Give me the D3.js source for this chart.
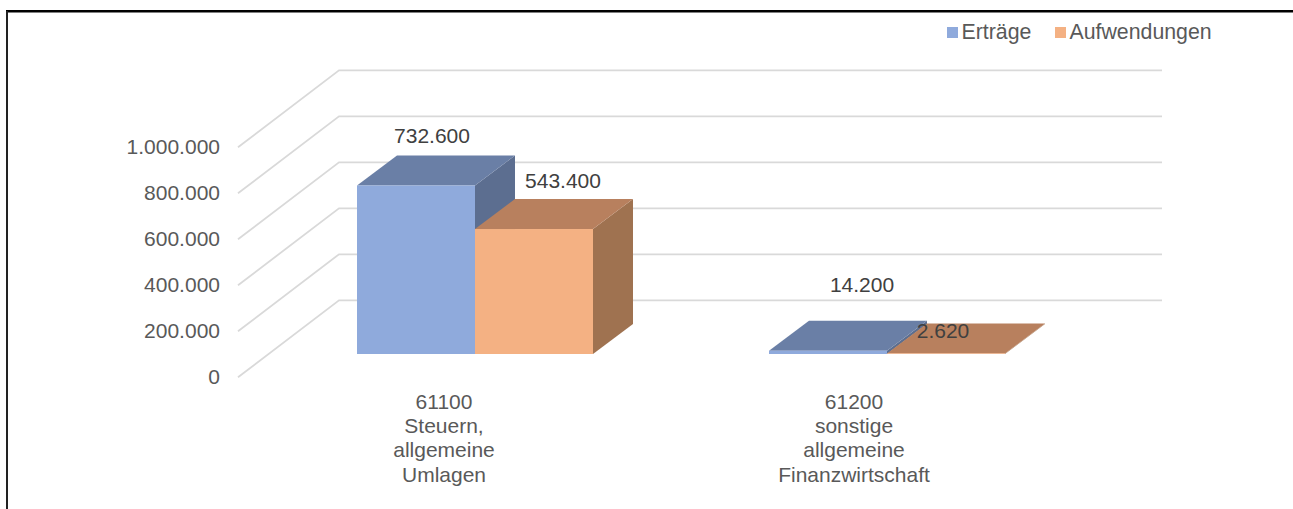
<!DOCTYPE html>
<html>
<head>
<meta charset="utf-8">
<script src="https://cdn.jsdelivr.net/npm/d3@7"></script>
<style>
  html, body { margin: 0; padding: 0; background: #fff; }
  svg { display: block; }
  text { font-family: "Liberation Sans", Arial, sans-serif; }
</style>
</head>
<body>
<div id="chart"></div>
<script>
const categories = ['61100', '61200'];
const categoryLines = [
  ['61100', 'Steuern,', 'allgemeine', 'Umlagen'],
  ['61200', 'sonstige', 'allgemeine', 'Finanzwirtschaft']
];
const seriesNames = ['Erträge', 'Aufwendungen'];
const ertraege = [732600, 14200];
const aufwendungen = [543400, 2620];
const yTicks = [0, 200000, 400000, 600000, 800000, 1000000];

const width = 1293;
const height = 509;

const faceColors = ['#8faadc', '#f4b183'];
const topColors = ['#6a7fa6', '#b8805e'];
const sideColors = ['#5c6e90', '#9f7250'];

// number format with dots as thousands separator
const fmt = d3.formatLocale({ decimal: ',', thousands: '.', grouping: [3], currency: ['', ''] }).format(',d');

const svg = d3.select('#chart')
  .append('svg')
  .attr('width', width)
  .attr('height', height);

svg.append('rect').attr('width', width).attr('height', height).attr('fill', '#fff');

// frame of the screenshot: only top and left (bottom and right are cut off)
svg.append('line').attr('x1', 6).attr('x2', width).attr('y1', 11.2).attr('y2', 11.2)
  .attr('stroke', '#000').attr('stroke-width', 2.4);
svg.append('line').attr('x1', 7).attr('x2', 7).attr('y1', 11).attr('y2', height)
  .attr('stroke', '#222').attr('stroke-width', 2);

// back wall scale, the floor is an oblique projection of it
const y = d3.scaleLinear().domain([0, 1000000]).range([300.3, 70.3]);
const wallDx = 101;
const wallDy = 77;
const wallRight = 1162;

// bars stand 23px up from the front edge of the floor
const barY = v => y(v) + 53.7;
const x0 = d3.scaleBand().domain(categories).range([269, 1093]);
const barW = 118;
const depthX = 40;
const depthY = 30;

const grid = svg.append('g');
yTicks.forEach(t => {
  grid.append('path')
    .attr('d', d3.line()([[339 - wallDx, y(t) + wallDy], [339, y(t)], [wallRight, y(t)]]))
    .attr('fill', 'none')
    .attr('stroke', '#d9d9d9')
    .attr('stroke-width', 1.8);
});

// value axis labels
svg.append('g').selectAll('text')
  .data(yTicks)
  .enter()
  .append('text')
  .attr('x', 220)
  .attr('y', d => y(d) + wallDy - 1)
  .attr('dy', '0.35em')
  .attr('text-anchor', 'end')
  .attr('fill', '#595959')
  .style('font-size', '21px')
  .text(d => fmt(d));

// bars, drawn per series so the orange one covers the blue side face
const barsData = [];
categories.forEach((c, i) => {
  barsData.push({ cat: c, s: 0, value: ertraege[i] });
  barsData.push({ cat: c, s: 1, value: aufwendungen[i] });
});

const bars = svg.append('g').selectAll('g')
  .data(barsData)
  .enter()
  .append('g');

const barLeft = d => x0(d.cat) + x0.bandwidth() / 2 - barW + d.s * barW;

bars.append('path')
  .attr('fill', d => sideColors[d.s])
  .attr('d', d => {
    const r = barLeft(d) + barW;
    return d3.line()([[r, barY(d.value)], [r + depthX, barY(d.value) - depthY], [r + depthX, barY(0) - depthY], [r, barY(0)]]) + 'Z';
  });

bars.append('path')
  .attr('fill', d => topColors[d.s])
  .attr('d', d => {
    const l = barLeft(d);
    const t = barY(d.value);
    return d3.line()([[l, t], [l + depthX, t - depthY], [l + barW + depthX, t - depthY], [l + barW, t]]) + 'Z';
  });

bars.append('rect')
  .attr('fill', d => faceColors[d.s])
  .attr('x', d => barLeft(d))
  .attr('y', d => barY(d.value))
  .attr('width', barW)
  .attr('height', d => barY(0) - barY(d.value));

// data labels were moved by hand in the original, so each has its own offset
const labelOffsets = [[16, -50], [29, -48], [34, -66], [-3, -23]];
svg.append('g').selectAll('text')
  .data(barsData)
  .enter()
  .append('text')
  .attr('x', (d, i) => barLeft(d) + barW / 2 + labelOffsets[i][0])
  .attr('y', (d, i) => barY(d.value) + labelOffsets[i][1])
  .attr('dy', '0.35em')
  .attr('text-anchor', 'middle')
  .attr('fill', '#404040')
  .style('font-size', '21px')
  .text(d => fmt(d.value));

// category labels
const catLabels = svg.append('g').selectAll('text')
  .data(categoryLines)
  .enter()
  .append('text')
  .attr('text-anchor', 'middle')
  .attr('fill', '#595959')
  .style('font-size', '21px');

catLabels.selectAll('tspan')
  .data((d, i) => d.map(line => ({ line, i })))
  .enter()
  .append('tspan')
  .attr('x', d => x0(categories[d.i]) + x0.bandwidth() / 2 - (d.i === 0 ? 31 : 33))
  .attr('y', (d, j) => 409 + j * 24.2)
  .text(d => d.line);

// legend
const legendX = [947, 1055];
const legend = svg.append('g').selectAll('g')
  .data(seriesNames)
  .enter()
  .append('g');

legend.append('rect')
  .attr('x', (d, i) => legendX[i])
  .attr('y', 27)
  .attr('width', 11)
  .attr('height', 11)
  .attr('fill', (d, i) => faceColors[i]);

legend.append('text')
  .attr('x', (d, i) => legendX[i] + 14.5)
  .attr('y', 32)
  .attr('dy', '0.35em')
  .attr('fill', '#595959')
  .style('font-size', '21.3px')
  .text(d => d);
</script>
</body>
</html>
